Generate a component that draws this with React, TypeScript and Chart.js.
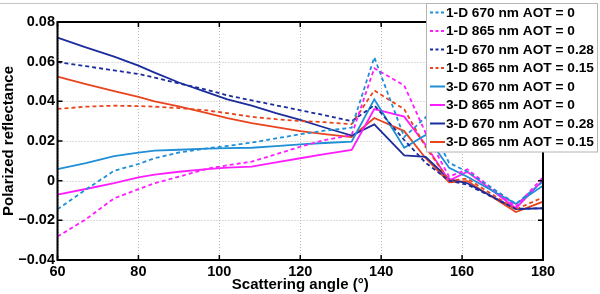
import React, { useEffect, useRef } from 'react';
import { Chart, registerables } from 'chart.js';
Chart.register(...registerables);

const angles = [60, 67, 74, 80, 84, 90, 97, 102, 108, 114, 120, 126, 132.7, 138.3, 145.7, 151, 156.8, 161.3, 173.3, 180];

const oneD670aot0 = [-0.0144, -0.0045, 0.005, 0.0084, 0.0113, 0.0142, 0.0163, 0.0175, 0.0192, 0.0213, 0.0234, 0.0252, 0.0267, 0.0622, 0.022, 0.032, 0.009, 0.0045, -0.0117, -0.0005];
const oneD865aot0 = [-0.0282, -0.0195, -0.0089, -0.0043, -0.0013, 0.002, 0.006, 0.0078, 0.0096, 0.0133, 0.0171, 0.0205, 0.023, 0.0567, 0.048, 0.024, 0.002, 0.0057, -0.013, 0.0017];
const oneD670aot028 = [0.0598, 0.0577, 0.0556, 0.0538, 0.052, 0.049, 0.0458, 0.043, 0.0405, 0.038, 0.0355, 0.033, 0.03, 0.038, 0.0205, 0.009, 0.0, -0.002, -0.0142, -0.0139];
const oneD865aot015 = [0.0362, 0.0373, 0.0378, 0.0376, 0.0373, 0.0366, 0.0354, 0.034, 0.0322, 0.031, 0.0301, 0.0295, 0.0285, 0.0455, 0.036, 0.017, 0.0, 0.001, -0.0145, -0.0084];
const threeD670aot0 = [0.0058, 0.0088, 0.0124, 0.0141, 0.0151, 0.0156, 0.0162, 0.0164, 0.0166, 0.0174, 0.0183, 0.019, 0.0197, 0.041, 0.0166, 0.023, 0.0065, 0.002, -0.0117, -0.0025];
const threeD865aot0 = [-0.007, -0.0042, -0.0012, 0.0017, 0.003, 0.0045, 0.0058, 0.0066, 0.0071, 0.0092, 0.0113, 0.0134, 0.0155, 0.0361, 0.0323, 0.018, 0.0, 0.0045, -0.0139, 0.0003];
const threeD670aot028 = [0.0721, 0.0672, 0.0625, 0.058, 0.0545, 0.0495, 0.0445, 0.041, 0.0378, 0.034, 0.0306, 0.0268, 0.0227, 0.0284, 0.0127, 0.012, 0.0008, -0.0013, -0.0143, -0.0139];
const threeD865aot015 = [0.0524, 0.0487, 0.0452, 0.0423, 0.04, 0.0375, 0.034, 0.0315, 0.029, 0.027, 0.025, 0.0235, 0.022, 0.0316, 0.025, 0.0113, -0.0008, -0.0002, -0.0158, -0.0106];

const seriesLabels = [
  '1-D 670 nm AOT = 0',
  '1-D 865 nm AOT = 0',
  '1-D 670 nm AOT = 0.28',
  '1-D 865 nm AOT = 0.15',
  '3-D 670 nm AOT = 0',
  '3-D 865 nm AOT = 0',
  '3-D 670 nm AOT = 0.28',
  '3-D 865 nm AOT = 0.15',
];

const xTitle = 'Scattering angle (°)';
const yTitle = 'Polarized reflectance';

const LIGHT_BLUE = '#1f8fd6';
const MAGENTA = '#ff1cff';
const DARK_BLUE = '#1b2c9c';
const RED = '#e9441d';
const FONT = '"Liberation Sans", Arial, Helvetica, sans-serif';

export default function App() {
  const ref = useRef<HTMLCanvasElement>(null);
  useEffect(() => {
    document.body.style.margin = '0';
    const canvas = ref.current!;
    const values = [oneD670aot0, oneD865aot0, oneD670aot028, oneD865aot015, threeD670aot0, threeD865aot0, threeD670aot028, threeD865aot015];
    const colors = [LIGHT_BLUE, MAGENTA, DARK_BLUE, RED, LIGHT_BLUE, MAGENTA, DARK_BLUE, RED];
    const dashed = [true, true, true, true, false, false, false, false];
    const datasets = values.map((vals, i) => ({
      label: seriesLabels[i],
      data: angles.map((a, j) => ({ x: a, y: vals[j] })),
      borderColor: colors[i],
      backgroundColor: colors[i],
      borderWidth: 1.8,
      borderDash: dashed[i] ? [4, 3] : [],
      pointRadius: 0,
      fill: false,
      tension: 0,
    }));

    const gridPlugin = {
      id: 'dottedGrid',
      beforeDatasetsDraw(chart: any) {
        const c = chart.ctx;
        const { left, right, top, bottom } = chart.chartArea;
        const xs = chart.scales.x;
        const ys = chart.scales.y;
        c.save();
        c.strokeStyle = '#b8b8b8';
        c.lineWidth = 1;
        c.setLineDash([1, 2]);
        c.beginPath();
        xs.ticks.forEach((t: any) => {
          const px = Math.round(xs.getPixelForValue(t.value)) + 0.5;
          c.moveTo(px, top); c.lineTo(px, bottom);
        });
        ys.ticks.forEach((t: any) => {
          const py = Math.round(ys.getPixelForValue(t.value)) + 0.5;
          c.moveTo(left, py); c.lineTo(right, py);
        });
        c.stroke();
        c.restore();
      },
    };

    const framePlugin = {
      id: 'frameAndLegend',
      afterDraw(chart: any) {
        const c = chart.ctx;
        const { left, right, top, bottom } = chart.chartArea;
        const xs = chart.scales.x;
        const ys = chart.scales.y;
        c.save();
        c.strokeStyle = '#000';
        c.lineWidth = 2;
        c.setLineDash([]);
        c.strokeRect(left, top, right - left, bottom - top);
        c.lineWidth = 1.5;
        c.beginPath();
        xs.ticks.forEach((t: any) => {
          const px = xs.getPixelForValue(t.value);
          c.moveTo(px, bottom); c.lineTo(px, bottom - 5);
          c.moveTo(px, top); c.lineTo(px, top + 5);
        });
        ys.ticks.forEach((t: any) => {
          const py = ys.getPixelForValue(t.value);
          c.moveTo(left, py); c.lineTo(left + 5, py);
          c.moveTo(right, py); c.lineTo(right - 5, py);
        });
        c.stroke();
        c.strokeStyle = '#c4c4c4';
        c.lineWidth = 1;
        c.beginPath();
        c.moveTo(0, 3.5); c.lineTo(598, 3.5);
        c.stroke();
        const bx = 426.5, by = 3.5, bw = 171, bh = 148.5;
        c.fillStyle = '#fff';
        c.fillRect(bx, by, bw, bh);
        c.strokeStyle = '#b4b4b4';
        c.strokeRect(bx, by, bw, bh);
        c.font = `bold 13.7px ${FONT}`;
        c.textBaseline = 'middle';
        c.textAlign = 'left';
        chart.data.datasets.forEach((ds: any, i: number) => {
          const y = 12.5 + 18.5 * i;
          c.strokeStyle = ds.borderColor;
          c.lineWidth = 2;
          c.setLineDash(ds.borderDash && ds.borderDash.length ? [3, 2.5] : []);
          c.beginPath();
          c.moveTo(430, y); c.lineTo(445, y);
          c.stroke();
          c.setLineDash([]);
          c.fillStyle = '#000';
          c.fillText(ds.label, 446, y + 0.5);
        });
        c.restore();
      },
    };

    const chart = new Chart(canvas, {
      type: 'line',
      data: { datasets },
      options: {
        animation: false,
        responsive: false,
        maintainAspectRatio: false,
        layout: { padding: { top: 22, right: 57, left: 0, bottom: 0 } },
        plugins: { legend: { display: false }, tooltip: { enabled: false } },
        scales: {
          x: {
            type: 'linear',
            min: 60,
            max: 180,
            ticks: { stepSize: 20, color: '#000', padding: 3, font: { family: FONT, size: 14.5, weight: 'bold' } },
            grid: { display: false, drawTicks: false },
            border: { display: false },
            title: { display: true, text: xTitle, color: '#000', padding: { top: 0, bottom: 0 }, font: { family: FONT, size: 15, weight: 'bold', lineHeight: 1.2 } },
            afterFit: (s: any) => { s.height = 34; },
          },
          y: {
            type: 'linear',
            min: -0.04,
            max: 0.08,
            ticks: {
              stepSize: 0.02,
              color: '#000',
              padding: 2.5,
              font: { family: FONT, size: 14.5, weight: 'bold' },
              callback: (v: any) => {
                const n = Number(v);
                if (Math.abs(n) < 1e-9) return '0';
                return (n < 0 ? '\u2212' : '') + Math.abs(n).toFixed(2);
              },
            },
            grid: { display: false, drawTicks: false },
            border: { display: false },
            title: { display: true, text: yTitle, color: '#000', padding: { top: 0, bottom: 0 }, font: { family: FONT, size: 15, weight: 'bold', lineHeight: 1.2 } },
            afterFit: (s: any) => { s.width = 57.5; },
          },
        },
      } as any,
      plugins: [gridPlugin, framePlugin],
    });
    return () => chart.destroy();
  }, []);
  return <canvas ref={ref} width={600} height={294} style={{ display: 'block', width: '600px', height: '294px' }} />;
}
